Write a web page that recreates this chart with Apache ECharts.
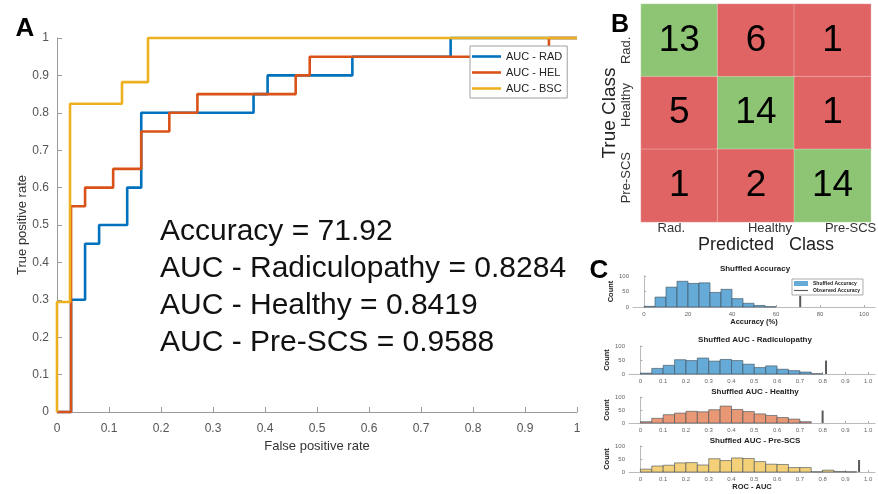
<!DOCTYPE html>
<html>
<head>
<meta charset="utf-8">
<script src="https://cdn.jsdelivr.net/npm/echarts/dist/echarts.min.js"></script>
<style>
  html, body { margin: 0; padding: 0; background: #fff; }
  #chart { width: 878px; height: 494px; }
</style>
</head>
<body>
<div id="chart"></div>
<script>
// panel A - ROC curves (step points)
const radFpr = [0, 0.027, 0.027, 0.054, 0.054, 0.081, 0.081, 0.135, 0.135, 0.162, 0.162, 0.378, 0.378, 0.405, 0.405, 0.568, 0.568, 0.757, 0.757, 1]
const radTpr = [0, 0, 0.3, 0.3, 0.45, 0.45, 0.5, 0.5, 0.6, 0.6, 0.8, 0.8, 0.85, 0.85, 0.9, 0.9, 0.95, 0.95, 1, 1]
const helFpr = [0, 0.027, 0.027, 0.054, 0.054, 0.108, 0.108, 0.162, 0.162, 0.216, 0.216, 0.27, 0.27, 0.459, 0.459, 0.486, 0.486, 0.946, 0.946, 1]
const helTpr = [0, 0, 0.55, 0.55, 0.6, 0.6, 0.65, 0.65, 0.75, 0.75, 0.8, 0.8, 0.85, 0.85, 0.9, 0.9, 0.95, 0.95, 1, 1]
const bscFpr = [0, 0, 0.025, 0.025, 0.125, 0.125, 0.175, 0.175, 1]
const bscTpr = [0, 0.294, 0.294, 0.824, 0.824, 0.882, 0.882, 1, 1]
const rocNames = ['AUC - RAD', 'AUC - HEL', 'AUC - BSC']
const summaryLines = ['Accuracy = 71.92', 'AUC - Radiculopathy = 0.8284', 'AUC - Healthy = 0.8419', 'AUC - Pre-SCS = 0.9588']

// panel B - confusion matrix (rows = true class, cols = predicted)
const classLabels = ['Rad.', 'Healthy', 'Pre-SCS']
const confusion = [
	[13, 6, 1],
	[5, 14, 1],
	[1, 2, 14]
]

// panel C - shuffled distributions
const accBins = [0, 5, 10, 15, 20, 25, 30, 35, 40, 45, 50, 55]
const accCounts = [2, 32, 64, 83, 76, 78, 47, 57, 27, 12, 5, 1]
const aucBins = [0, 0.05, 0.1, 0.15, 0.2, 0.25, 0.3, 0.35, 0.4, 0.45, 0.5, 0.55, 0.6, 0.65, 0.7, 0.75, 0.8, 0.85, 0.9]
const radCounts = [3, 20, 31, 51, 48, 57, 46, 52, 48, 35, 23, 29, 17, 12, 7, 1]
const helCounts = [5, 18, 32, 38, 45, 43, 51, 65, 52, 44, 35, 29, 21, 15, 5]
const scsCounts = [11, 23, 26, 35, 36, 27, 51, 44, 54, 52, 40, 30, 29, 17, 17, 1, 7, 2, 1]
const observedX = [71, 0.815, 0.8, 0.96]
const observedH = [36, 48, 48, 46]
const histTitles = ['Shuffled Accuracy', 'Shuffled AUC - Radiculopathy', 'Shuffled AUC - Healthy', 'Shuffled AUC - Pre-SCS']
const accTicks = [0, 20, 40, 60, 80, 100]
const aucTicks = [0, 0.1, 0.2, 0.3, 0.4, 0.5, 0.6, 0.7, 0.8, 0.9, 1.0]

const FONT = '"Liberation Sans", Arial, sans-serif'
const lineColors = ['#0072BD', '#D95319', '#EDB120']
const histColors = ['#66aad7', '#66aad7', '#e89875', '#f4d079']
const green = '#8ec574'
const red = '#e06464'
// thin line icon inside a taller box (legend)
const thinLineIcon = 'path://M0,0 M0,5 M0,1.7 L20,1.7 L20,3.3 L0,3.3 Z'

const zip = (a, b) => a.map((v, i) => [v, b[i]])

// histogram grids
const histGrids = [
	{ left: 633, top: 276, width: 242, height: 31 },
	{ left: 629, top: 346, width: 246, height: 28 },
	{ left: 629, top: 397, width: 246, height: 26 },
	{ left: 629, top: 446, width: 246, height: 26 }
]
const histTitleY = [268.5, 339.5, 391.5, 440.5]

const histX = (gi, isAcc) => ({
	type: 'value',
	gridIndex: gi,
	min: isAcc ? -5 : -0.05,
	max: isAcc ? 105 : 1.03,
	name: gi === 1 ? 'Accuracy (%)' : gi === 4 ? 'ROC - AUC' : '',
	nameLocation: 'middle',
	nameGap: gi === 1 ? 9 : 8,
	nameTextStyle: { fontSize: 7.5, fontWeight: 'bold', color: '#222', fontFamily: FONT },
	axisLine: { show: true, lineStyle: { color: '#aaa', width: 0.8 } },
	axisTick: { show: true, inside: true, length: 2, lineStyle: { color: '#aaa' }, customValues: isAcc ? accTicks : aucTicks },
	axisLabel: {
		fontSize: 6, color: '#666', margin: 4, fontFamily: FONT,
		customValues: isAcc ? accTicks : aucTicks,
		formatter: (v) => (isAcc || v === 0 ? String(v) : v.toFixed(1))
	},
	splitLine: { show: false }
})
const histY = (gi) => ({
	type: 'value',
	gridIndex: gi,
	min: 0,
	max: 100,
	interval: 50,
	name: 'Count',
	nameLocation: 'middle',
	nameRotate: 90,
	nameGap: 10,
	nameTextStyle: { fontSize: 7.5, fontWeight: 'bold', color: '#222', fontFamily: FONT },
	axisLine: { show: true, lineStyle: { color: '#aaa', width: 0.8 } },
	axisTick: { show: true, inside: true, length: 2, lineStyle: { color: '#aaa' } },
	axisLabel: { fontSize: 6, color: '#666', margin: 4, fontFamily: FONT },
	splitLine: { show: false }
})

const histSeries = (axisIdx, bins, counts, width, color, name) => ({
	type: 'custom',
	name: name,
	xAxisIndex: axisIdx,
	yAxisIndex: axisIdx,
	color: color,
	silent: true,
	data: counts.map((c, i) => [bins[i], bins[i] + width, c]),
	encode: { x: [0, 1], y: 2 },
	renderItem: (params, api) => {
		const p0 = api.coord([api.value(0), api.value(2)])
		const p1 = api.coord([api.value(1), 0])
		return {
			type: 'rect',
			shape: { x: p0[0], y: p0[1], width: p1[0] - p0[0], height: p1[1] - p0[1] },
			style: { fill: color, stroke: '#3d4b57', lineWidth: 0.6 }
		}
	}
})

const observedSeries = (axisIdx, k, name) => ({
	type: 'line',
	name: name,
	xAxisIndex: axisIdx,
	yAxisIndex: axisIdx,
	symbol: 'none',
	silent: true,
	color: '#5a5a5a',
	lineStyle: { color: '#5a5a5a', width: 2 },
	data: [[observedX[k], 0], [observedX[k], observedH[k]]]
})

const rocAxisCommon = {
	type: 'value',
	min: 0,
	max: 1,
	interval: 0.1,
	axisLine: { show: true, lineStyle: { color: '#9a9a9a', width: 1 } },
	axisTick: { show: true, inside: true, length: 5, lineStyle: { color: '#9a9a9a' } },
	splitLine: { show: false },
	nameLocation: 'middle',
	nameMoveOverlap: false,
	nameTextStyle: { fontSize: 13, color: '#333', fontFamily: FONT }
}

const heatData = []
confusion.forEach((row, r) => row.forEach((v, c) => heatData.push([c, r, v, r === c ? 1 : 0])))

const option = {
	animation: false,
	backgroundColor: '#fff',
	textStyle: { fontFamily: FONT },
	grid: [
		{ left: 57, top: 38, width: 520, height: 374 },
		...histGrids,
		{ left: 641, top: 4, width: 237, height: 218 }
	],
	xAxis: [
		{
			...rocAxisCommon,
			gridIndex: 0,
			name: 'False positive rate',
			nameGap: 28,
			axisLabel: { fontSize: 12, color: '#555', margin: 11, fontFamily: FONT }
		},
		histX(1, true),
		histX(2, false),
		histX(3, false),
		histX(4, false),
		{
			type: 'category',
			gridIndex: 5,
			data: classLabels,
			name: 'Predicted   Class',
			nameLocation: 'middle',
			nameGap: 6,
			nameTextStyle: { fontSize: 18, color: '#222', fontFamily: FONT, padding: [0, 0, 0, 20] },
			axisLine: { show: false },
			axisTick: { show: false },
			axisLabel: {
				interval: 0, fontSize: 13, color: '#333', margin: 0, fontFamily: FONT,
				formatter: (v, i) => '{l' + i + '|' + v + '}',
				rich: {
					l0: { fontSize: 13, color: '#333', padding: [0, 16, 0, 0] },
					l1: { fontSize: 13, color: '#333', padding: [0, 0, 0, 28] },
					l2: { fontSize: 13, color: '#333', padding: [0, 0, 0, 36] }
				}
			}
		}
	],
	yAxis: [
		{
			...rocAxisCommon,
			gridIndex: 0,
			name: 'True positive rate',
			nameRotate: 90,
			nameGap: 28,
			axisLabel: { fontSize: 12, color: '#555', margin: 8, fontFamily: FONT }
		},
		histY(1),
		histY(2),
		histY(3),
		histY(4),
		{
			type: 'category',
			gridIndex: 5,
			data: classLabels,
			inverse: true,
			name: 'True Class',
			nameLocation: 'middle',
			nameRotate: 90,
			nameGap: 22,
			nameTextStyle: { fontSize: 19, color: '#222', fontFamily: FONT },
			axisLine: { show: false },
			axisTick: { show: false },
			axisLabel: {
				interval: 0, rotate: 90, fontSize: 13, color: '#333', margin: 8, fontFamily: FONT,
				formatter: (v, i) => '{r' + i + '|' + v + '}',
				rich: {
					r0: { fontSize: 13, color: '#333', padding: [0, 20, 0, 0] },
					r1: { fontSize: 13, color: '#333', padding: [0, 0, 0, 16] },
					r2: { fontSize: 13, color: '#333', padding: [0, 0, 0, 16] }
				}
			}
		}
	],
	visualMap: {
		type: 'piecewise',
		show: false,
		seriesIndex: 11,
		dimension: 3,
		pieces: [
			{ value: 1, color: green },
			{ value: 0, color: red }
		]
	},
	legend: [
		{
			data: rocNames.map((n) => ({ name: n, icon: 'rect' })),
			orient: 'vertical',
			left: 470,
			top: 46,
			itemWidth: 29,
			itemHeight: 2.6,
			itemGap: 3,
			padding: [4, 5, 3, 2],
			borderColor: '#a0a0a0',
			borderWidth: 1,
			backgroundColor: '#fff',
			selectedMode: false,
			textStyle: { fontSize: 11, color: '#222', fontFamily: FONT, lineHeight: 13 }
		},
		{
			data: [{ name: 'Shuffled Accuracy', icon: 'rect' }, { name: 'Observed Accuracy', icon: thinLineIcon }],
			orient: 'vertical',
			left: 792,
			top: 279,
			itemWidth: 14,
			itemHeight: 5,
			itemGap: 2,
			padding: [2, 3, 2, 2],
			borderColor: '#888',
			borderWidth: 0.7,
			backgroundColor: '#fff',
			selectedMode: false,
			textStyle: { fontSize: 5, fontWeight: 'bold', color: '#222', fontFamily: FONT }
		}
	],
	graphic: [
		{ type: 'text', x: 25, y: 29, style: { text: 'A', font: 'bold 26px ' + FONT, fill: '#000', textAlign: 'center', textVerticalAlign: 'middle' } },
		{ type: 'text', x: 620, y: 25, z: 100, style: { text: 'B', font: 'bold 25px ' + FONT, fill: '#000', textAlign: 'center', textVerticalAlign: 'middle' } },
		{ type: 'text', x: 599, y: 271, style: { text: 'C', font: 'bold 26px ' + FONT, fill: '#000', textAlign: 'center', textVerticalAlign: 'middle' } },
		...summaryLines.map((t, i) => ({
			type: 'text', x: 160, y: 232 + i * 37,
			style: { text: t, font: '30px ' + FONT, fill: '#111', textAlign: 'left', textVerticalAlign: 'middle' }
		})),
		...histTitles.map((t, i) => ({
			type: 'text', x: 755, y: histTitleY[i],
			style: { text: t, font: 'bold 8px ' + FONT, fill: '#222', textAlign: 'center', textVerticalAlign: 'middle' }
		}))
	],
	series: [
		{ type: 'line', name: rocNames[0], xAxisIndex: 0, yAxisIndex: 0, symbol: 'none', clip: false, color: lineColors[0], lineStyle: { width: 2.6 }, data: zip(radFpr, radTpr) },
		{ type: 'line', name: rocNames[1], xAxisIndex: 0, yAxisIndex: 0, symbol: 'none', clip: false, color: lineColors[1], lineStyle: { width: 2.6 }, data: zip(helFpr, helTpr) },
		{ type: 'line', name: rocNames[2], xAxisIndex: 0, yAxisIndex: 0, symbol: 'none', clip: false, color: lineColors[2], lineStyle: { width: 2.6 }, data: zip(bscFpr, bscTpr) },
		histSeries(1, accBins, accCounts, 5, histColors[0], 'Shuffled Accuracy'),
		observedSeries(1, 0, 'Observed Accuracy'),
		histSeries(2, aucBins, radCounts, 0.05, histColors[1], 'rad'),
		observedSeries(2, 1, 'obs-rad'),
		histSeries(3, aucBins, helCounts, 0.05, histColors[2], 'hel'),
		observedSeries(3, 2, 'obs-hel'),
		histSeries(4, aucBins, scsCounts, 0.05, histColors[3], 'scs'),
		observedSeries(4, 3, 'obs-scs'),
		{
			type: 'heatmap',
			xAxisIndex: 5,
			yAxisIndex: 5,
			data: heatData,
			itemStyle: { borderColor: 'rgba(255,255,255,0.3)', borderWidth: 1 },
			label: {
				show: true,
				formatter: (p) => p.value[2],
				fontSize: 37,
				color: '#000',
				fontFamily: FONT
			}
		}
	]
}

const chart = echarts.init(document.getElementById('chart'), null, { renderer: 'canvas' })
chart.setOption(option)
</script>
</body>
</html>
